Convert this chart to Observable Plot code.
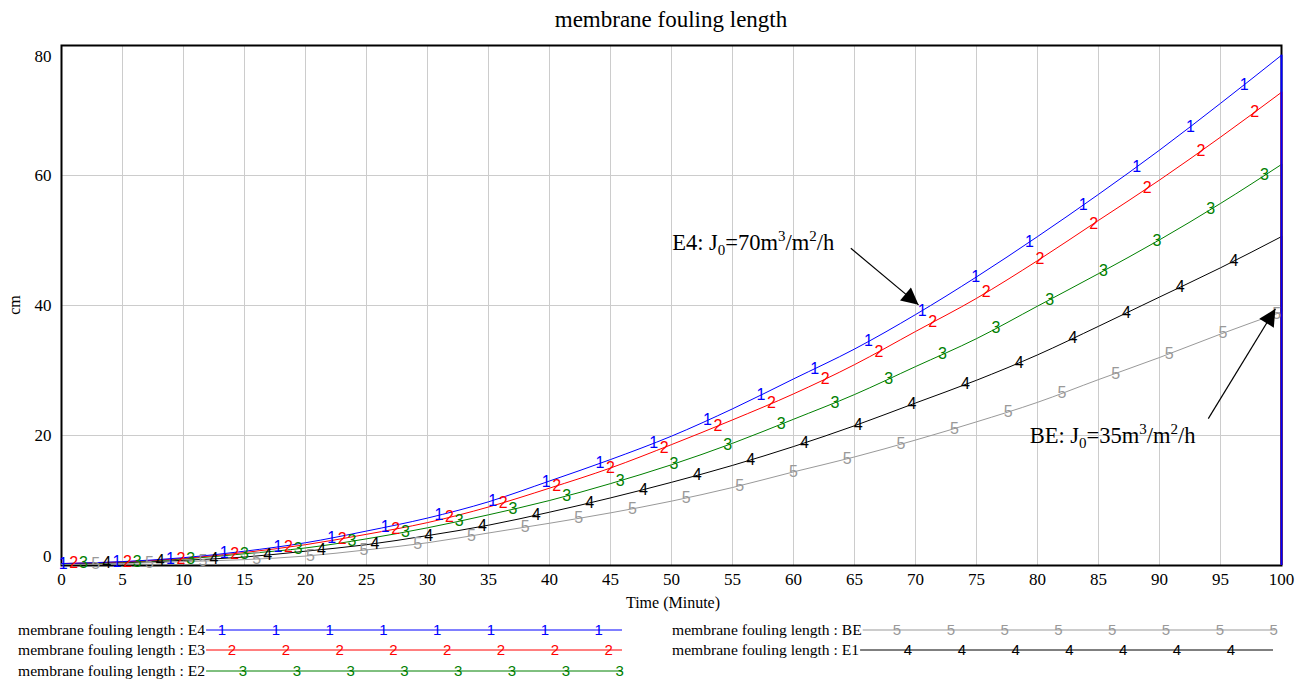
<!DOCTYPE html>
<html><head><meta charset="utf-8">
<script src="https://cdn.jsdelivr.net/npm/d3@7"></script>
<script src="https://cdn.jsdelivr.net/npm/@observablehq/plot@0.6"></script>
<style>
body{margin:0;background:#fff;}
#wrap{position:relative;width:1306px;height:681px;font-family:"Liberation Serif","Times New Roman",serif;color:#000;}
#chart svg,#legend svg{display:block;}
#title{position:absolute;top:5px;left:61px;width:1220px;text-align:center;font-size:23px;line-height:30px;}
#xlabel{position:absolute;top:593px;left:63px;width:1220px;text-align:center;font-size:16px;line-height:20px;}
#ylabel{position:absolute;left:-15px;top:295px;width:60px;text-align:center;font-size:16px;line-height:20px;transform:rotate(-90deg);}
</style></head><body>
<div id="wrap">
<div id="chart"></div>
<div id="legend"></div>
<div id="title">membrane fouling length</div>
<div id="xlabel">Time (Minute)</div>
<div id="ylabel">cm</div>
</div>
<script>
// ---- data ----
const times = [0,5,10,15,20,25,30,35,40,45,50,55,60,65,70,75,80,85,90,95,100];
const E4 = [0.3,0.6,1.2,2.2,3.5,5.3,7.3,9.8,13.0,16.3,19.9,24.1,28.7,33.3,38.6,44.4,50.6,57.1,63.9,71.1,78.5];
const E3 = [0.3,0.55,1.1,2.0,3.2,4.8,6.6,9.0,11.9,15.0,18.6,22.4,26.4,30.9,36.0,41.1,46.9,53.1,59.3,65.9,72.8];
const E2 = [0.25,0.5,1.0,1.8,2.7,4.1,5.8,7.8,10.0,12.6,15.5,18.8,22.5,26.3,30.6,34.9,39.9,44.9,50.1,55.7,61.7];
const BE = [0.15,0.3,0.6,0.9,1.45,2.4,3.5,5.0,6.5,8.1,9.9,12.0,14.4,16.7,19.3,22.1,25.1,28.6,32.0,35.6,39.0];
const E1 = [0.2,0.4,0.8,1.3,2.2,3.2,4.6,6.2,8.2,10.4,12.8,15.4,18.3,21.5,25.0,28.5,32.4,36.8,41.3,45.8,50.6];

const seriesNames   = ["E4","E3","E2","BE","E1"];
const seriesValues  = [E4, E3, E2, BE, E1];
const seriesNumbers = ["1","2","3","5","4"];
const seriesColors  = ["#0000ff","#ff0000","#008000","#999999","#000000"];
const markerOffsets = [0.14, 1.0, 1.8, 2.8, 3.7];
const markerStep = 4.4;

const xTicks = [0,5,10,15,20,25,30,35,40,45,50,55,60,65,70,75,80,85,90,95,100];
const yTicks = [0,20,40,60,80];

const arrows = [
  {x1: 64.7, y1: 48.8, x2: 70.25, y2: 40.1},
  {x1: 94.0, y1: 22.6, x2: 99.5, y2: 39.5}
];
const annotations = [
  {t: 50.1, v: 48.4, parts: [["E4: J",""],["0","sub"],["=70m",""],["3","sup"],["/m",""],["2","sup"],["/h",""]]},
  {t: 79.4, v: 18.8, parts: [["BE: J",""],["0","sub"],["=35m",""],["3","sup"],["/m",""],["2","sup"],["/h",""]]}
];

// ---- build tables ----
const drawOrder = [4,3,2,1,0]; // E1, BE, E2, E3, E4 (blue on top)
const rows = [];
const lastRows = [];
const markerRows = [];
for (const i of drawOrder) {
  const vals = seriesValues[i];
  times.forEach((t, j) => rows.push({series: seriesNames[i], t, v: vals[j]}));
  lastRows.push({series: seriesNames[i], t: times[times.length-1], v: vals[vals.length-1]});
  const interp = d3.scaleLinear().domain(times).range(vals);
  for (let t = markerOffsets[i]; t <= 100; t += markerStep) {
    markerRows.push({series: seriesNames[i], num: seriesNumbers[i], t, v: interp(t)});
  }
}

const serif = "'Liberation Serif', 'Times New Roman', serif";
const sans = "'Liberation Sans', Arial, sans-serif";
const axisOpts = {tickSize: 0, fontSize: 17, fontFamily: serif, label: null};
const chart = Plot.plot({
  width: 1306, height: 610,
  marginTop: 45, marginLeft: 61, marginRight: 25, marginBottom: 45,
  x: {domain: [0, 100], label: null},
  y: {domain: [0, 80], label: null},
  color: {domain: seriesNames, range: seriesColors},
  style: {fontFamily: serif, background: "white", color: "black"},
  marks: [
    Plot.gridX(xTicks, {stroke: "#cccccc", strokeOpacity: 1}),
    Plot.gridY(yTicks, {stroke: "#cccccc", strokeOpacity: 1}),
    Plot.axisX(xTicks, {...axisOpts, tickPadding: 7}),
    Plot.axisY([20,40,60], {...axisOpts, tickPadding: 10}),
    Plot.axisY([0], {...axisOpts, tickPadding: 10, dy: -9}),
    Plot.axisY([80], {...axisOpts, tickPadding: 10, dy: 11}),
    Plot.frame({stroke: "black", strokeWidth: 2}),
    Plot.line(rows, {x: "t", y: "v", z: "series", stroke: "series", strokeWidth: 1, curve: "monotone-x"}),
    Plot.ruleX(lastRows, {x: "t", y1: 0, y2: "v", stroke: "series", strokeWidth: 2}),
    Plot.text(markerRows, {x: "t", y: "v", text: "num", fill: "series", fontSize: 16, fontFamily: sans}),
    Plot.link(arrows, {x1: "x1", y1: "y1", x2: "x2", y2: "y2", stroke: "black", strokeWidth: 1.2})
  ]
});
document.getElementById("chart").appendChild(chart);

const svg = d3.select(chart);
// make sure tick labels use the serif face at the reference size
svg.selectAll('g[aria-label*="axis"]').style("font-family", serif).style("font-size", "17px")
  .style("font-variant", "normal");

// arrowheads (filled triangles)
const defs = svg.append("defs");
defs.append("marker").attr("id", "ahead").attr("viewBox", "0 0 10 10")
  .attr("refX", 10).attr("refY", 5).attr("markerUnits", "userSpaceOnUse")
  .attr("markerWidth", 24).attr("markerHeight", 17).attr("orient", "auto")
  .append("path").attr("d", "M0,0L10,5L0,10Z").attr("fill", "black");
svg.selectAll('g[aria-label="link"] path').attr("marker-end", "url(#ahead)");

// annotation texts with sub/superscripts, placed through the plot's scales
const xs = chart.scale("x"), ys = chart.scale("y");
for (const a of annotations) {
  const txt = svg.append("text").attr("x", xs.apply(a.t)).attr("y", ys.apply(a.v))
    .attr("text-anchor", "start")
    .attr("font-family", serif).attr("font-size", 22.5).attr("fill", "black");
  let shift = 0;
  for (const [s, kind] of a.parts) {
    const target = kind === "sub" ? 5 : kind === "sup" ? -9 : 0;
    txt.append("tspan").text(s).attr("dy", target - shift)
      .attr("font-size", kind ? 15 : 22.5);
    shift = target;
  }
}

// ---- legend ----
const legendEntries = [
  {name: "E4", idx: 0, x: 18,  y: 20, x1: 622,  m0: 222, count: 8},
  {name: "E3", idx: 1, x: 18,  y: 40, x1: 622,  m0: 232, count: 8},
  {name: "E2", idx: 2, x: 18,  y: 61, x1: 622,  m0: 243, count: 8},
  {name: "BE", idx: 3, x: 672, y: 20, x1: 1275, m0: 897, count: 8},
  {name: "E1", idx: 4, x: 672, y: 40, x1: 1273, m0: 908, count: 7}
];
const legendStep = 53.8;
const lsvg = d3.select("#legend").append("svg").attr("width", 1306).attr("height", 71);
for (const e of legendEntries) {
  const c = seriesColors[e.idx];
  const label = lsvg.append("text").attr("x", e.x).attr("y", e.y).attr("dy", "0.32em")
    .attr("text-anchor", "start").attr("font-family", serif).attr("font-size", 15.6)
    .text("membrane fouling length : " + e.name);
  const x0 = e.x + label.node().getComputedTextLength() + 1;
  lsvg.append("line").attr("x1", x0).attr("x2", e.x1).attr("y1", e.y).attr("y2", e.y)
    .attr("stroke", c).attr("stroke-width", 1);
  for (let k = 0; k < e.count; k++) {
    lsvg.append("text").attr("x", e.m0 + k * legendStep).attr("y", e.y).attr("dy", "0.35em")
      .attr("text-anchor", "middle").attr("font-family", sans)
      .attr("font-size", 15).attr("fill", c).text(seriesNumbers[e.idx]);
  }
}
</script>
</body></html>
